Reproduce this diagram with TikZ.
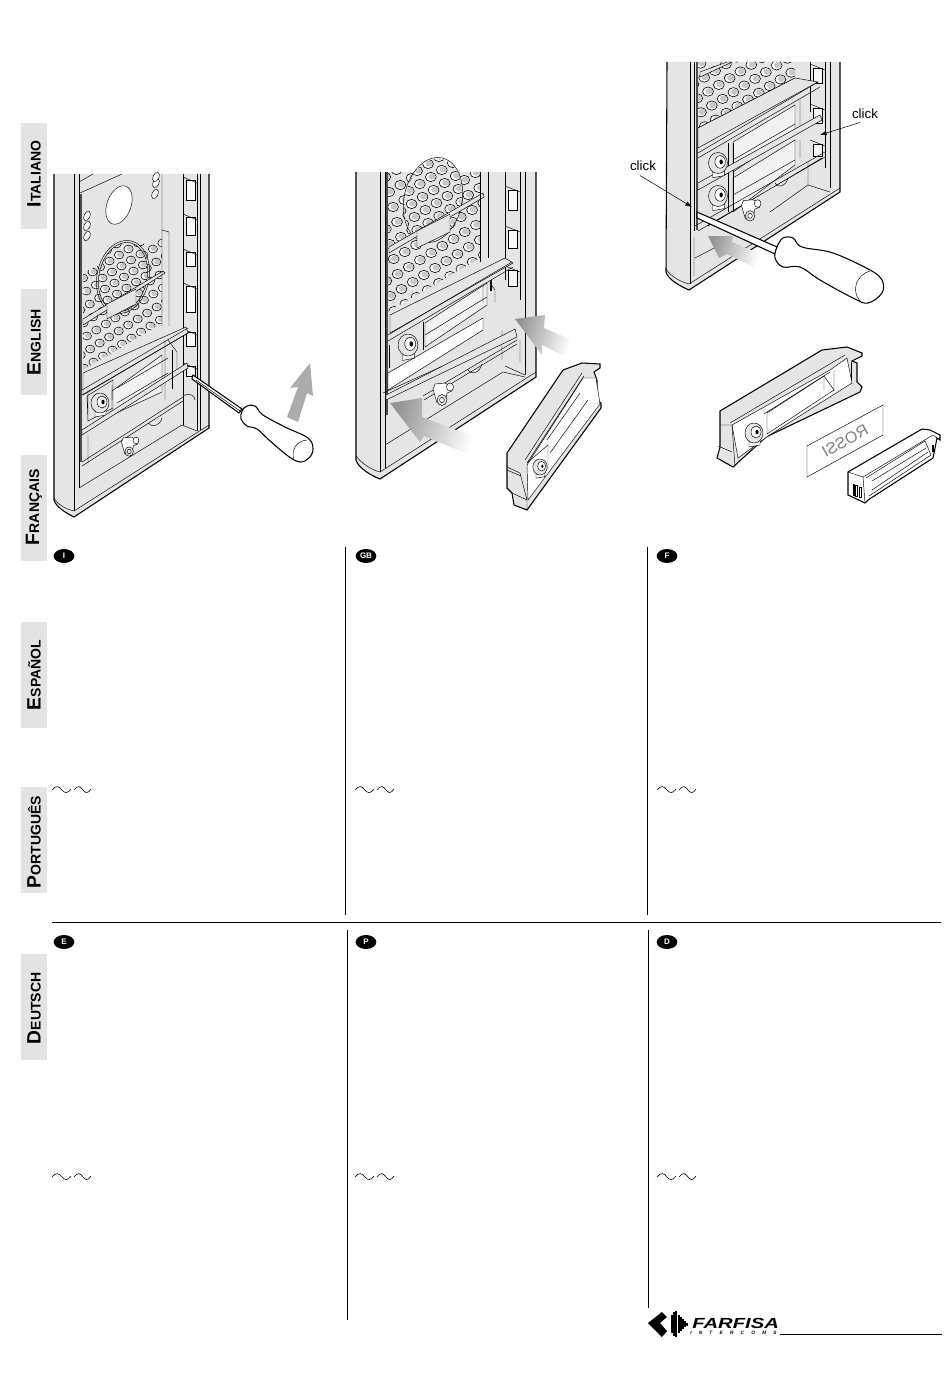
\documentclass[tikz,border=0pt]{standalone}
\usepackage{fontspec}
\setmainfont{Liberation Sans}
\usetikzlibrary{arrows.meta,calc,positioning,shapes.geometric}
\definecolor{panelgrey}{gray}{0.9}
\definecolor{tabgrey}{gray}{0.89}
\tikzset{
  thinline/.style={line width=0.35pt},
  edgeline/.style={line width=0.8pt},
  tabbox/.style={fill=tabgrey, minimum width=19.5pt, minimum height=79.5pt, inner sep=0pt},
  tabtext/.style={rotate=90, anchor=west, inner sep=0pt},
  badge/.style={ellipse, fill=black, text=white, minimum width=15.5pt, minimum height=10.5pt, inner sep=0pt, font=\fontsize{6}{6}\selectfont\bfseries},
  rule/.style={line width=0.6pt},
  clicktext/.style={font=\fontsize{10}{10}\selectfont, inner sep=1pt},
  leader/.style={-{Latex[length=5pt,width=3.5pt]}, line width=0.4pt},
}
\newcommand{\holek}{1}
% one grille hole
\newcommand{\onehole}[2]{
  \filldraw[line width=0.45pt, fill=white] (#1,#2) ellipse [x radius=4.6*\holek, y radius=3.9*\holek];
  \fill[panelgrey!70!gray] (#1+1,#2-0.4) ellipse [x radius=3*\holek, y radius=2.6*\holek];
}
% grille: #1 = clip path, #2,#3 = origin, #4,#5 = step along a row, #6 = step between rows
\newcommand{\drawgrille}[6]{
  \begin{scope}
    \clip #1;
    \fill[panelgrey] #1;
    \foreach \i in {0,...,13}
      \foreach \j in {-11,...,3}
        \onehole{#2+\i*#4+\j*0.35*#4}{#3+\i*#5+\j*#6};
  \end{scope}
}
% knob on the module
\newcommand{\drawknob}[3]{
  \begin{scope}[shift={(#1,#2)}, scale=#3]
    \draw[thinline, fill=white] (-5,9) -- (-5,14) -- (6,12) -- (6,6) -- cycle;
    \draw[thinline, fill=panelgrey] (0,0) ellipse (9 and 10);
    \draw[thinline, fill=white] (2,-1) ellipse (5 and 6);
    \fill (3,-1) ellipse (1.6 and 2.4);
  \end{scope}
}
% screw below the module
\newcommand{\drawscrew}[3]{
  \begin{scope}[shift={(#1,#2)}, scale=#3]
    \draw[thinline, fill=white] (-10,-8) -- (-8,-13) -- (2,-14) -- (8,-10) -- (9,-6) -- (4,-4) -- (2,6) -- (-6,6) -- cycle;
    \draw[thinline, fill=white] (7,-10) ellipse (3.5 and 4);
    \draw[thinline, fill=panelgrey] (-1,3) ellipse (5 and 5.5);
    \draw[thinline, fill=white] (-1,3) ellipse (2.4 and 2.6);
  \end{scope}
}
% tilde mark of the text columns
\newcommand{\drawwave}[2]{
  \draw[line width=0.45pt] (#1,#2) .. controls (#1+4,#2-5) and (#1+7,#2-4) .. (#1+10,#2)
    .. controls (#1+12,#2+3) and (#1+16,#2+4) .. (#1+19,#2-1);
  \draw[line width=0.45pt] (#1+22,#2) .. controls (#1+26,#2-5) and (#1+28,#2-4) .. (#1+31,#2)
    .. controls (#1+33,#2+3) and (#1+36,#2+4) .. (#1+39,#2-1);
}
\begin{document}
\begin{tikzpicture}[x=0.75pt,y=-0.75pt]
\useasboundingbox (0,0) rectangle (950,1377);

% Language tabs
\foreach \first/\rest/\ypos/\pad in {I/TALIANO/176/22, E/NGLISH/342/20, F/RANÇAIS/508/16, E/SPAÑOL/675/18, P/ORTUGUÊS/840/5, D/EUTSCH/1007/16} {
  \node[tabbox] (tab\ypos) at (34,\ypos) {};
  \node[tabtext] (name\ypos) at ($(tab\ypos.south)+(0,-\pad)$)
    {\bfseries{\fontsize{14.5}{14.5}\selectfont\first}{\fontsize{10.5}{10.5}\selectfont\rest}};
}

% Panel 1, hole and speaker
\fill[panelgrey] (54,174) -- (54,500) .. controls (56,507) and (66,513) .. (74,517) -- (209,428) -- (209,174) -- cycle;
\drawgrille{(83,273) -- (162,235) -- (162,323) -- (83,370) -- cycle}{84}{368}{9.5}{-6}{13}
\draw[thinline, fill=white, rotate around={-20:(119,205)}] (119,205) ellipse (12 and 20);
\foreach \hx/\hy in {156/183, 155/194, 156/177, 87/216, 87/226, 87/236} {
  \draw[thinline, fill=white, rotate around={-25:(\hx,\hy)}] (\hx,\hy) ellipse (3 and 5);
}
\begin{scope}
  \clip[rotate around={-12:(123,277)}] (123,277) ellipse (24 and 35);
  \fill[panelgrey] (90,230) rectangle (160,320);
  \foreach \i in {0,...,7}
    \foreach \j in {0,...,7}
      \onehole{88+\i*9.5+\j*2.5}{262-\i*6+\j*11};
\end{scope}
\draw[thinline, rotate around={-12:(123,277)}] (123,277) ellipse (24 and 35);
\draw[thinline, rotate around={-12:(123,277)}] (123,277) ellipse (26 and 37);
\draw[thinline, fill=panelgrey] (83,319) -- (163,271) -- (165,273) -- (83,325) -- cycle;
\draw[thinline, fill=panelgrey] (107,304) -- (107,319) -- (136,304) -- (136,289) -- cycle;

% Panel 1, frame
\draw[edgeline] (54,174) -- (54,500) .. controls (56,507) and (66,513) .. (74,517) -- (209,428) -- (209,174);
\draw[thinline] (54,498) .. controls (58,505) and (66,509) .. (74,511) -- (209,425);
\draw[thinline] (74,174) -- (74,511) (79,174) -- (79,488);
\draw[line width=1pt, gray!60!black] (81,194) -- (81,462);
\draw[thinline] (80,193) -- (122,174) (79,182) -- (93,174);
\draw[thinline] (162,174) -- (162,326) (169,232) -- (169,326) (162,230) -- (169,232);
\draw[thinline] (183,174) -- (183,425) (197,174) -- (197,431) (200,174) -- (200,430);
\foreach \sy/\sh in {180/20, 217/18, 252/14, 286/26, 332/14, 366/10} {
  \draw[thinline, fill=gray!6] (186,\sy) rectangle (195,\sy+\sh);
  \draw[thinline] (183,\sy-3) -- (197,\sy+3);
}
% Panel 1, module and rails
\draw[thinline, fill=panelgrey] (83,373) -- (186,327) -- (188,333) -- (83,395) -- cycle;
\draw[thinline] (82,390) -- (188,328) (82,395) -- (188,333);
\draw[thinline, fill=panelgrey!50] (112,391) -- (162,355) -- (162,392) -- (112,415) -- cycle;
\draw[thinline] (117,388) -- (168,358) (117,403) -- (168,373) (165,340) -- (165,400);
\draw[thinline] (168,340) -- (177,352) -- (177,375);
\draw[thinline] (88,390) -- (88,420) (112,385) -- (112,400) (87,396) -- (113,380) -- (113,408) -- (88,421) -- cycle;
\drawknob{100}{403}{1}
\draw[thinline, fill=panelgrey] (82,430) -- (187,363) -- (188,368) -- (82,435) -- cycle;
\draw[thinline] (82,462) -- (183,397) (82,466) -- (183,401) (88,463) -- (88,435);
\draw[thinline] (172,389) -- (172,350);
\drawscrew{130}{449}{0.85}
\draw[thinline] (148,423) .. controls (152,428) and (160,426) .. (162,418);
\draw[thinline] (79,488) -- (182,425) -- (197,431);
\draw[thinline] (183,396) .. controls (190,392) and (195,396) .. (195,400);

% Panel 1, screwdriver and arrow
\draw[line width=0.8pt, fill=white] (193,375) -- (242,409) -- (239,413) -- (192,379) -- cycle;
\draw[thinline] (196,380) -- (240,411);
\draw[line width=0.8pt, fill=white] plot[smooth cycle, tension=0.6] coordinates {(242,411) (247,406) (255,406) (263,415) (285,427) (308,438) (313,449) (309,458) (300,462) (288,456) (269,440) (257,429) (247,426) (241,419)};
\draw[thinline] (307,440) .. controls (296,441) and (291,450) .. (294,460);
\fill[gray!65] (310,363) -- (290,388) -- (298,387) -- (287,417) -- (298,422) -- (307,393) -- (313,396) -- cycle;

% Panel 2, back wall
\renewcommand{\holek}{1.18}
\fill[panelgrey] (356,172) -- (356,460) .. controls (358,468) and (372,476) .. (380,479) -- (536,377) -- (536,172) -- cycle;
\drawgrille{(386,172) -- (480,172) -- (480,258) -- (386,313) -- cycle}{383}{318}{11.2}{-7}{15}
\begin{scope}
  \clip[rotate around={-12:(433,200)}] (433,200) ellipse (28 and 42);
  \fill[panelgrey] (395,150) rectangle (475,250);
  \foreach \i in {0,...,7}
    \foreach \j in {0,...,8}
      \onehole{395+\i*11+\j*2.8}{185-\i*7+\j*13};
\end{scope}
\draw[thinline, rotate around={-12:(433,200)}] (433,200) ellipse (29 and 43);
\draw[thinline, fill=panelgrey] (389,247) -- (483,193) -- (484,197) -- (389,253) -- cycle;
\draw[thinline, fill=panelgrey] (417,231) -- (417,248) -- (450,232) -- (450,214) -- cycle;

% Panel 2, frame
\draw[edgeline] (356,172) -- (356,460) .. controls (358,468) and (372,476) .. (380,479) -- (536,377) -- (536,172);
\draw[thinline] (356,456) .. controls (362,464) and (372,470) .. (380,472) -- (536,372);
\draw[thinline] (380,172) -- (380,472) (385,172) -- (385,468);
\draw[line width=1pt, gray!60!black] (387,172) -- (387,415);
\draw[thinline] (480,172) -- (480,262) (488,172) -- (488,258);
\draw[thinline] (505,172) -- (505,280) (520,172) -- (520,300) (525,172) -- (525,375);
\draw[thinline] (502,360) -- (502,330) (520,340) -- (520,362) (525,375) -- (505,366);
\foreach \sy/\sh in {190/20, 230/18, 270/16} {
  \draw[thinline, fill=gray!6] (508,\sy) rectangle (517,\sy+\sh);
  \draw[thinline] (505,\sy-4) -- (520,\sy+2);
}
% Panel 2, module and rails
\draw[thinline, fill=panelgrey] (390,315) -- (505,258) -- (513,263) -- (390,333) -- cycle;
\draw[thinline] (388,335) -- (512,262) (388,341) -- (513,267);
\draw[thinline, fill=panelgrey!50] (425,323) -- (487,283) -- (487,305) -- (425,347) -- cycle;
\draw[thinline] (425,335) -- (487,297) (483,285) -- (483,303) (490,283) -- (495,290) -- (495,302);
\draw[thinline, fill=white] (490,280) rectangle (491,290);
\draw[thinline, fill=white] (388,373) -- (483,318) -- (483,330) -- (388,390) -- cycle;
\draw[thinline] (389,345) -- (389,368) (423,322) -- (423,350);
\drawknob{408}{345}{1.1}
\draw[thinline] (383,393) -- (516,333) (385,398) -- (517,335);
\draw[thinline, fill=panelgrey] (386,395) -- (515,329) -- (517,337) -- (386,400) -- cycle;
\draw[thinline] (423,396) -- (517,340) (424,400) -- (517,344);
\drawscrew{443}{397}{1}
\draw[thinline] (468,370) .. controls (472,376) and (480,372) .. (482,364);
\draw[thinline] (385,445) -- (503,372) -- (525,377);

% Panel 2, arrows
\shade[left color=gray!85, right color=white, shading angle=75] (390,403) -- (422,398) -- (422,417) -- (477,438) -- (477,458) -- (424,436) -- (420,442) -- cycle;
\shade[left color=gray!85, right color=white, shading angle=75] (515,319) -- (545,315) -- (544,328) -- (572,340) -- (572,360) -- (542,345) -- (542,355) -- cycle;

% Loose module of panel 2
\draw[edgeline, fill=panelgrey] (507,453) -- (563,370) -- (582,363) -- (600,364) -- (600,368) -- (594,372) -- (597,380) -- (597,400) -- (601,403) -- (601,408) -- (527,510) -- (514,505) -- (512,493) -- (507,488) -- cycle;
\draw[thinline, fill=white] (527,465) -- (583,378) -- (596,378) -- (600,404) -- (528,500) -- cycle;
\draw[thinline] (525,460) -- (582,373) (527,463) -- (584,376) (547,440) -- (580,393) (550,453) -- (588,400);
\draw[thinline] (507,467) -- (520,473) (507,470) -- (521,476) (520,473) -- (527,500) (512,493) -- (527,500) -- (527,510);
\draw[thinline] (527,463) -- (548,445) -- (548,470);
\drawknob{540}{467}{0.8}

% Panel 3, back wall
\fill[panelgrey] (667,62) -- (666,272) .. controls (668,280) and (682,287) .. (689,290) -- (840,192) -- (840,62) -- cycle;
\drawgrille{(698,62) -- (795,62) -- (795,78) -- (698,128) -- cycle}{694}{133}{10.8}{-6.7}{14}
\draw[thinline] (698,128) -- (795,78);
\draw[thinline, fill=panelgrey] (700,72) -- (727,62) -- (732,62) -- (700,77) -- cycle;

% Panel 3, frame
\draw[edgeline] (667,62) -- (666,272) .. controls (668,280) and (682,287) .. (689,290) -- (840,192) -- (840,62);
\draw[thinline] (666,269) .. controls (672,278) and (682,282) .. (689,284) -- (840,188);
\draw[thinline] (690,62) -- (690,284) (694,62) -- (694,231);
\draw[line width=1pt, gray!60!black] (697,62) -- (697,230);
\draw[thinline] (810,62) -- (810,112) (825,62) -- (825,168) (830,62) -- (830,188);
\foreach \sy/\sh in {68/15, 108/15, 144/12} {
  \draw[thinline, fill=gray!6] (813,\sy) rectangle (822,\sy+\sh);
  \draw[thinline] (810,\sy-4) -- (825,\sy+2);
}
% Panel 3, two modules and rails
\draw[thinline, fill=panelgrey] (698,128) -- (795,78) -- (818,82) -- (698,148) -- cycle;
\draw[thinline] (698,153) -- (818,82) (698,158) -- (820,87);
\draw[thinline, fill=panelgrey!50] (733,142) -- (795,105) -- (795,130) -- (733,172) -- cycle;
\draw[thinline] (733,160) -- (795,124) (800,100) -- (800,125);
\draw[thinline, fill=panelgrey!50] (733,178) -- (795,140) -- (795,165) -- (733,212) -- cycle;
\draw[thinline] (733,195) -- (795,160) (800,140) -- (800,158);
\draw[thinline] (728,143) -- (728,212) (733,143) -- (733,212);
\draw[thinline, fill=panelgrey] (698,183) -- (820,115) -- (822,120) -- (698,190) -- cycle;
\drawknob{718}{163}{1.05}
\drawknob{718}{196}{1.05}
\draw[thinline] (695,226) -- (825,152) (698,231) -- (825,157) (708,226) -- (822,158);
\drawscrew{751}{213}{0.95}
\draw[thinline] (775,183) .. controls (779,189) and (786,186) .. (788,178);
\draw[thinline] (694,237) -- (694,276) (695,258) -- (720,245);
\draw[thinline] (808,162) -- (808,185) -- (830,192) (808,185) -- (770,212);

% Panel 3, arrow and screwdriver
\shade[left color=gray!85, right color=white, shading angle=75] (708,236) -- (733,236) -- (732,242) -- (762,255) -- (753,267) -- (727,254) -- (719,258) -- cycle;
\draw[line width=0.8pt, fill=white] (697,212) -- (777,247) -- (775,254) -- (697,218) -- cycle;
\draw[line width=0.8pt, fill=white] plot[smooth cycle, tension=0.6] coordinates {(777,247) (783,238) (793,238) (802,247) (833,253) (870,270) (882,280) (882,293) (868,303) (853,298) (820,280) (800,267) (783,267) (775,258)};
\draw[thinline] (870,271) .. controls (856,275) and (851,291) .. (860,301);

% Click labels with leaders
\node[clicktext] (click1) at (643,166) {click};
\node[clicktext] (click2) at (865,114) {click};
\coordinate (clickend1) at (692,207);
\coordinate (clickend2) at (820,135);
\draw[leader] (click1.south) ++(-3,3) -- (clickend1);
\draw[leader] (click2.south) ++(-5,2) -- (clickend2);

% Loose module of panel 3
\draw[edgeline, fill=panelgrey] (720,411) -- (822,350) -- (847,347) -- (862,353) -- (862,356) -- (852,361) -- (857,363) -- (857,382) -- (862,387) -- (860,392) -- (766,437) -- (733,467) -- (717,458) -- (720,447) -- cycle;
\draw[thinline, fill=white] (732,425) -- (830,370) -- (847,358) -- (852,383) -- (768,436) -- (738,458) -- cycle;
\draw[thinline, fill=white] (767,413) -- (824,376) -- (834,390) -- (767,434) -- cycle;
\draw[thinline] (730,423) -- (845,355) (764,414) -- (830,372) (824,378) -- (824,390) (834,370) -- (834,392);
\draw[thinline] (720,425) -- (732,425) -- (735,467) (718,446) -- (732,452);
\drawknob{754}{433}{1}
\draw[thinline] (851,362) -- (851,380);

% Name label
\draw[thinline, fill=white] (807,446) -- (883,405) -- (883,435) -- (807,477) -- cycle;
\node[xscale=-1, rotate=-28.5, gray, font=\fontsize{12}{12}\selectfont, inner sep=0pt] (rossi) at (845,441) {ROSSI};

% End cap
\draw[edgeline, fill=white] (848,472) -- (922,429) -- (930,430) -- (940,435) -- (940,440) -- (937,438) -- (933,458) -- (868,500) -- (865,503) -- (848,495) -- cycle;
\draw[thinline] (848,472) -- (863,477) -- (865,503) (863,477) -- (933,435) -- (937,438);
\draw[thinline] (866,478) -- (925,441) -- (931,455) -- (869,496) (872,481) -- (926,448) (872,490) -- (928,452);
\draw[thinline, fill=white] (853,484) rectangle (854.5,495);
\draw[thinline, fill=white] (855.5,485) rectangle (857,496);
\draw[thinline, fill=white] (859,487) rectangle (861.5,497);
\draw[thinline] (932,445) rectangle (933,451);

% Language badges
\foreach \code/\xpos/\ypos in {I/64/556, GB/366/556, F/667/556, E/64/942, P/366/942, D/667/942} {
  \node[badge] (badge\code) at (\xpos,\ypos) {\code};
}

% Tilde marks
\foreach \xpos in {52,355,657} {
  \drawwave{\xpos}{790}
  \drawwave{\xpos}{1177}
}

% Column rules
\draw[rule] (345,547) -- (345,915);
\draw[rule] (647,547) -- (647,915);
\draw[rule] (52,922) -- (941,922);
\draw[rule] (347,930) -- (347,1320);
\draw[rule] (648,930) -- (648,1308);
\draw[rule] (780,1334) -- (942,1334);

% Logo
\fill (648,1323) -- (662,1312) -- (667,1317) -- (660,1323) -- (667,1331) -- (662,1337) -- cycle;
\foreach \bx/\bh in {671/9, 673/12, 675/13, 678/9, 680/7, 682/5, 684/3, 686/1.5} {
  \fill (\bx,1324-\bh) rectangle (\bx+1.5,1324+\bh);
}
\node[anchor=west, inner sep=0pt, xscale=1.38, font=\fontsize{11}{11}\selectfont\bfseries\itshape] (farfisa) at (692,1323) {FARFISA};
\node[anchor=west, inner sep=0pt, font=\fontsize{3.6}{4}\selectfont\bfseries\itshape\addfontfeature{LetterSpace=150}] (intercoms) at (690,1332.5) {INTERCOMS};
\end{tikzpicture}
\end{document}
